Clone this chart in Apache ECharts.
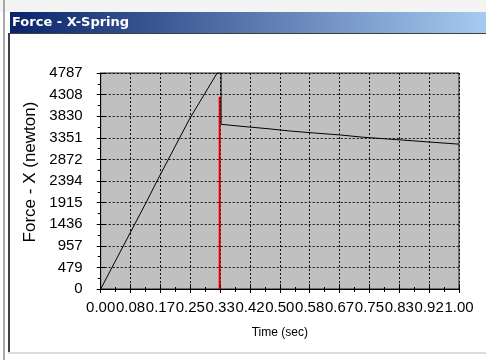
<!DOCTYPE html>
<html>
<head>
<meta charset="utf-8">
<script src="https://cdn.jsdelivr.net/npm/echarts@6/dist/echarts.min.js"></script>
<style>
  html, body { margin: 0; padding: 0; background: #fff; }
  #chart { width: 486px; height: 360px; }
</style>
</head>
<body>
<div id="chart"></div>
<script>
// values
const timeValues = [0, 0.128, 0.161, 0.249, 0.325, 0.336, 0.336, 0.40, 0.47, 0.53, 0.60, 0.67, 0.73, 0.80, 0.87, 0.93, 1.00]
const forceValues = [0, 1935, 2453, 3783, 4787, 4787, 3650, 3600, 3550, 3500, 3455, 3413, 3365, 3325, 3285, 3250, 3210]
const markerTime = [0.332, 0.332]
const markerForce = [0, 4260]

const xTickLabels = ['0.00', '0.08', '0.17', '0.25', '0.33', '0.42', '0.50', '0.58', '0.67', '0.75', '0.83', '0.92', '1.00']
const yTickLabels = ['0', '479', '957', '1436', '1915', '2394', '2872', '3351', '3830', '4308', '4787']

const xMax = 1
const yMax = 4787
const xStep = xMax / (xTickLabels.length - 1)
const yStep = yMax / (yTickLabels.length - 1)

const font = 'Liberation Sans, Arial, sans-serif'

const chart = echarts.init(document.getElementById('chart'), null, { renderer: 'canvas' })

// base axis settings shared by the visible axis and the overlay (inner ticks)
function xAxisBase() {
  return { type: 'value', min: 0, max: xMax, interval: xStep, gridIndex: 0 }
}
function yAxisBase() {
  return { type: 'value', min: 0, max: yMax, interval: yStep, gridIndex: 0 }
}

chart.setOption({
  animation: false,
  backgroundColor: '#fff',
  graphic: [
    // window frame
    { type: 'rect', shape: { x: 0, y: 0, width: 486, height: 12 }, style: { fill: '#f4f4f4' }, silent: true },
    { type: 'rect', shape: { x: 3, y: 0, width: 2, height: 360 }, style: { fill: '#a8a8a8' }, silent: true },
    { type: 'rect', shape: { x: 8, y: 33, width: 2, height: 320 }, style: { fill: '#404040' }, silent: true },
    { type: 'rect', shape: { x: 8, y: 33, width: 478, height: 1 }, style: { fill: '#404040' }, silent: true },
    { type: 'rect', shape: { x: 8, y: 352, width: 478, height: 2 }, style: { fill: '#dcdcdc' }, silent: true },
    {
      type: 'rect',
      shape: { x: 10, y: 12, width: 476, height: 21 },
      style: {
        fill: new echarts.graphic.LinearGradient(0, 0, 1, 0, [
          { offset: 0, color: '#0a246a' },
          { offset: 1, color: '#a6caf0' },
        ]),
      },
      silent: true,
    },
    {
      type: 'text',
      x: 12,
      y: 22.5,
      style: {
        text: 'Force - X-Spring',
        fill: '#fff',
        font: 'bold 13px "DejaVu Sans", sans-serif',
        verticalAlign: 'middle',
      },
      silent: true,
    },
  ],
  grid: {
    left: 100.7,
    right: 27,
    top: 73,
    bottom: 71,
    show: true,
    backgroundColor: '#c0c0c0',
    borderColor: '#202020',
    borderWidth: 1,
  },
  xAxis: [
    {
      ...xAxisBase(),
      name: 'Time (sec)',
      nameLocation: 'middle',
      nameGap: 38,
      nameTextStyle: { color: '#000', fontFamily: font, fontSize: 12, verticalAlign: 'top' },
      axisLine: { lineStyle: { color: '#000', width: 1 } },
      axisTick: { show: true, length: 4, lineStyle: { color: '#000' } },
      minorTick: { show: true, splitNumber: 2, length: 3, lineStyle: { color: '#000' } },
      axisLabel: {
        color: '#000',
        fontFamily: font,
        fontSize: 15,
        margin: 11,
        interval: 0,
        hideOverlap: false,
        showMinLabel: true,
        showMaxLabel: true,
        formatter: (v, i) => xTickLabels[i] ?? v.toFixed(2),
      },
      splitLine: { show: true, lineStyle: { color: '#111', width: 1, type: [2, 2] } },
    },
    {
      ...xAxisBase(),
      position: 'bottom',
      axisLine: { show: false },
      axisTick: { show: true, inside: true, length: 5, lineStyle: { color: '#000' } },
      minorTick: { show: true, splitNumber: 2, length: 2, lineStyle: { color: '#000' } },
      axisLabel: { show: false },
      splitLine: { show: false },
    },
  ],
  yAxis: [
    {
      ...yAxisBase(),
      name: 'Force - X (newton)',
      nameLocation: 'middle',
      nameGap: 58,
      nameRotate: 90,
      nameTextStyle: { color: '#000', fontFamily: font, fontSize: 17, padding: [0, 0, 0, 18] },
      axisLine: { show: true, lineStyle: { color: '#000', width: 1 } },
      axisTick: { show: true, length: 4, lineStyle: { color: '#000' } },
      minorTick: { show: true, splitNumber: 2, length: 3, lineStyle: { color: '#000' } },
      axisLabel: {
        color: '#000',
        fontFamily: font,
        fontSize: 15,
        margin: 18,
        showMinLabel: true,
        showMaxLabel: true,
        formatter: (v, i) => yTickLabels[i] ?? String(Math.round(v)),
      },
      splitLine: { show: true, lineStyle: { color: '#111', width: 1, type: [2, 2] } },
    },
    {
      ...yAxisBase(),
      position: 'left',
      axisLine: { show: false },
      axisTick: { show: true, inside: true, length: 5, lineStyle: { color: '#000' } },
      minorTick: { show: false },
      axisLabel: { show: false },
      splitLine: { show: false },
    },
  ],
  series: [
    // red marker line
    {
      type: 'line',
      xAxisIndex: 0,
      yAxisIndex: 0,
      data: markerTime.map((t, i) => [t, markerForce[i]]),
      symbol: 'none',
      lineStyle: { color: '#e00000', width: 2 },
      z: 2,
      silent: true,
    },
    {
      type: 'line',
      xAxisIndex: 0,
      yAxisIndex: 0,
      data: timeValues.map((t, i) => [t, forceValues[i]]),
      symbol: 'none',
      lineStyle: { color: '#000', width: 1 },
      z: 3,
      silent: true,
    },
  ],
})
</script>
</body>
</html>
